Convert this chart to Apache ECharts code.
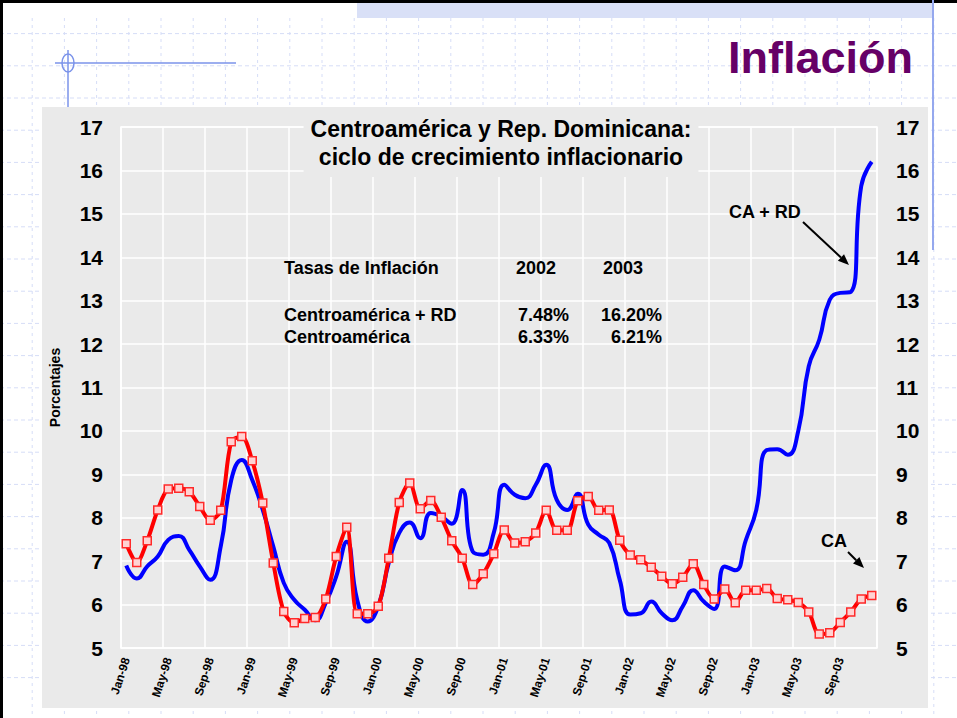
<!DOCTYPE html>
<html>
<head>
<meta charset="utf-8">
<script src="https://cdn.jsdelivr.net/npm/echarts@6/dist/echarts.min.js"></script>
<style>
  html, body { margin: 0; padding: 0; background: #fff; }
  #chart { width: 957px; height: 718px; }
</style>
</head>
<body>
<div id="chart"></div>
<script>
  // etiquetas del eje x (ene-98 a dic-03)
  const monthNames = ['Jan', 'Feb', 'Mar', 'Apr', 'May', 'Jun', 'Jul', 'Aug', 'Sep', 'Oct', 'Nov', 'Dec']
  const years = ['98', '99', '00', '01', '02', '03']
  const months = []
  years.forEach((y) => monthNames.forEach((m) => months.push(m + '-' + y)))

  // Centroamérica + RD (azul)
  const caRd = [
    6.90, 6.60, 6.88, 7.11, 7.49, 7.58, 7.26, 6.88, 6.57, 7.34, 8.87, 9.33,
    8.87, 8.18, 7.34, 6.50, 6.11, 5.88, 5.64, 6.04, 6.65, 7.45, 6.10, 5.61,
    5.96, 6.96, 7.65, 7.89, 7.53, 8.11, 8.03, 7.86, 8.64, 7.22, 7.15, 7.65,
    8.76, 8.53, 8.45, 8.76, 9.22, 8.41, 8.18, 8.55, 7.84, 7.61, 7.42, 6.57,
    5.77, 5.80, 6.07, 5.80, 5.64, 5.96, 6.33, 6.07, 5.90, 6.88, 6.79, 7.48,
    8.18, 9.56, 9.58, 9.45, 10.00, 11.49, 12.10, 13.02, 13.18, 13.20, 15.64, 16.20
  ]

  // Centroamérica (rojo)
  const ca = [
    7.40, 6.97, 7.47, 8.18, 8.66, 8.68, 8.60, 8.26, 7.94, 8.17, 9.75, 9.87,
    9.31, 8.34, 6.96, 5.84, 5.58, 5.68, 5.70, 6.13, 7.11, 7.78, 5.79, 5.79,
    5.96, 7.07, 8.35, 8.80, 8.21, 8.40, 8.01, 7.47, 7.07, 6.46, 6.71, 7.17,
    7.72, 7.42, 7.45, 7.65, 8.17, 7.71, 7.71, 8.39, 8.49, 8.17, 8.18, 7.48,
    7.14, 7.03, 6.86, 6.65, 6.48, 6.63, 6.94, 6.46, 6.13, 6.36, 6.04, 6.33,
    6.33, 6.37, 6.14, 6.11, 6.05, 5.83, 5.32, 5.35, 5.59, 5.83, 6.13, 6.21
  ]

  const tableHeader = ['Tasas de Inflación', '2002', '2003']
  const tableRows = [
    ['Centroamérica + RD', '7.48%', '16.20%'],
    ['Centroamérica', '6.33%', '6.21%'],
  ]

  const FONT = '"Liberation Sans", Arial, sans-serif'

  // flecha simple: línea + punta
  function arrow(x1, y1, x2, y2) {
    const a = Math.atan2(y2 - y1, x2 - x1)
    const len = 11, w = 4.5
    const bx = x2 - len * Math.cos(a), by = y2 - len * Math.sin(a)
    return [
      { type: 'line', z: 10, shape: { x1: x1, y1: y1, x2: bx, y2: by }, style: { stroke: '#000', lineWidth: 2 } },
      {
        type: 'polygon', z: 10,
        shape: { points: [[x2, y2], [bx + w * Math.sin(a), by - w * Math.cos(a)], [bx - w * Math.sin(a), by + w * Math.cos(a)]] },
        style: { fill: '#000' },
      },
    ]
  }

  // decoración de la diapositiva
  const deco = []
  for (let k = 1; k <= 21; k++) {
    const y = 1.4 + 32.2 * k
    deco.push({ type: 'line', z: -3, shape: { x1: 0, y1: y, x2: 957, y2: y }, style: { stroke: '#d6ddf7', lineWidth: 1, lineDash: [4, 3] } })
  }
  for (let k = 1; k <= 29; k++) {
    const x = 32.2 * k
    deco.push({ type: 'line', z: -3, shape: { x1: x, y1: 18, x2: x, y2: 718 }, style: { stroke: '#d6ddf7', lineWidth: 1, lineDash: [3, 4] } })
  }
  deco.push(
    { type: 'rect', z: -2, shape: { x: 357, y: 3, width: 576, height: 15 }, style: { fill: '#d9e0f7' } },
    { type: 'line', z: -2, shape: { x1: 0, y1: 1.5, x2: 957, y2: 1.5 }, style: { stroke: '#000', lineWidth: 3 } },
    { type: 'line', z: -2, shape: { x1: 1.5, y1: 0, x2: 1.5, y2: 718 }, style: { stroke: '#000', lineWidth: 3 } },
    { type: 'line', z: -2, shape: { x1: 933, y1: 0, x2: 933, y2: 250 }, style: { stroke: '#95a8ee', lineWidth: 2 } },
    { type: 'line', z: -2, shape: { x1: 55, y1: 63, x2: 236, y2: 63 }, style: { stroke: '#7b93ea', lineWidth: 1.5 } },
    { type: 'line', z: -2, shape: { x1: 68, y1: 50, x2: 68, y2: 107 }, style: { stroke: '#7b93ea', lineWidth: 1.5 } },
    { type: 'ellipse', z: -2, shape: { cx: 68, cy: 63, rx: 6, ry: 9 }, style: { fill: 'none', stroke: '#7b93ea', lineWidth: 1.5 } },
    { type: 'rect', z: -1, shape: { x: 42, y: 107, width: 886, height: 601 }, style: { fill: '#eaeaea' } },
    {
      type: 'text', z: 10, x: 913, y: 57,
      style: { text: 'Inflación', font: 'bold 45px ' + FONT, fill: '#660066', align: 'right', verticalAlign: 'middle' },
    }
  )

  // tabla de tasas
  const colX = [284, 569, 662]
  const headX = [284, 516, 603]
  const tbl = []
  tableHeader.forEach((t, j) => {
    tbl.push({
      type: 'text', z: 10, x: headX[j], y: 268,
      style: { text: t, font: 'bold 18px ' + FONT, fill: '#000', align: 'left', verticalAlign: 'middle' },
    })
  })
  tableRows.forEach((row, r) => {
    row.forEach((t, j) => {
      tbl.push({
        type: 'text', z: 10, x: colX[j], y: [315, 337][r],
        style: { text: t, font: 'bold 18px ' + FONT, fill: '#000', align: j === 0 ? 'left' : 'right', verticalAlign: 'middle' },
      })
    })
  })

  // anotaciones
  const notes = [
    { type: 'text', z: 10, x: 729, y: 212, style: { text: 'CA + RD', font: 'bold 18px ' + FONT, fill: '#000', align: 'left', verticalAlign: 'middle' } },
    ...arrow(803, 222, 849, 265),
    { type: 'text', z: 10, x: 821, y: 541, style: { text: 'CA', font: 'bold 18px ' + FONT, fill: '#000', align: 'left', verticalAlign: 'middle' } },
    ...arrow(848, 552, 864, 568),
  ]

  const chart = echarts.init(document.getElementById('chart'), null, { renderer: 'svg' })

  const yLabel = { fontSize: 21, fontWeight: 'bold', color: '#000', fontFamily: FONT }

  const option = {
    backgroundColor: '#ffffff',
    animation: false,
    title: {
      text: 'Centroamérica y Rep. Dominicana:\nciclo de crecimiento inflacionario',
      left: 494,
      top: 114,
      textAlign: 'center',
      backgroundColor: '#eaeaea',
      padding: [1, 7, 6, 7],
      textStyle: { fontSize: 23, fontWeight: 'bold', color: '#000', fontFamily: FONT, lineHeight: 28 },
    },
    grid: {
      left: 121,
      right: 80,
      top: 127,
      bottom: 70,
      show: true,
      backgroundColor: '#eaeaea',
      borderColor: '#ffffff',
      borderWidth: 1.5,
    },
    xAxis: {
      type: 'category',
      data: months,
      boundaryGap: true,
      axisLine: { show: false },
      axisTick: { show: false },
      axisLabel: { interval: 3, rotate: 72, margin: 10, fontSize: 12, fontWeight: 'bold', color: '#000', fontFamily: FONT },
      splitLine: { show: true, interval: 3, lineStyle: { color: '#ffffff', width: 1.5 } },
    },
    yAxis: [
      {
        type: 'value',
        min: 5,
        max: 17,
        interval: 1,
        name: 'Porcentajes',
        nameLocation: 'middle',
        nameRotate: 90,
        nameGap: 59,
        nameTextStyle: { fontSize: 14, fontWeight: 'bold', color: '#000', fontFamily: FONT },
        axisLine: { show: false },
        axisTick: { show: false },
        axisLabel: Object.assign({ margin: 18 }, yLabel),
        splitLine: { show: true, lineStyle: { color: '#ffffff', width: 1.5 } },
      },
      {
        type: 'value',
        position: 'right',
        min: 5,
        max: 17,
        interval: 1,
        axisLine: { show: false },
        axisTick: { show: false },
        axisLabel: Object.assign({ margin: 19 }, yLabel),
        splitLine: { show: false },
      },
    ],
    series: [
      {
        name: 'Centroamérica + RD',
        type: 'line',
        data: caRd,
        smooth: 0.5,
        showSymbol: false,
        lineStyle: { color: '#0000ff', width: 4 },
        z: 2,
      },
      {
        name: 'Centroamérica',
        type: 'line',
        data: ca,
        smooth: 0.3,
        symbol: 'rect',
        symbolSize: 8,
        showAllSymbol: true,
        lineStyle: { color: '#ff0000', width: 4 },
        itemStyle: { color: '#ffd2d2', borderColor: '#ff2a2a', borderWidth: 1.5 },
        z: 3,
      },
    ],
    graphic: { elements: deco.concat(tbl, notes) },
  }

  chart.setOption(option)
</script>
</body>
</html>
